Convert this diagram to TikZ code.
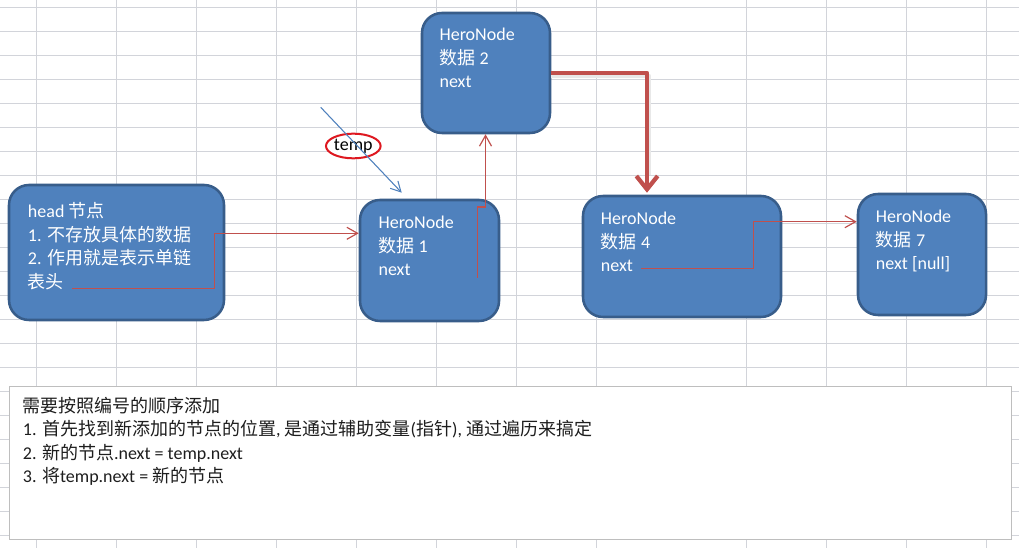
\documentclass[tikz,border=0pt]{standalone}
\usepackage{fontspec}
\setmainfont{Carlito}
\newfontfamily\cjk{Noto Sans CJK SC}
\usetikzlibrary{arrows.meta,shapes.geometric,calc}
\definecolor{gridc}{RGB}{210,212,218}
\definecolor{boxfill}{RGB}{79,129,189}
\definecolor{boxdraw}{RGB}{56,93,138}
\definecolor{redc}{RGB}{192,80,77}
\definecolor{tempred}{RGB}{222,24,32}
\definecolor{bluec}{RGB}{79,129,189}
\definecolor{txtc}{RGB}{30,30,30}
\definecolor{notegray}{RGB}{190,190,190}
\begin{document}
\begin{tikzpicture}[x=0.75pt,y=-0.75pt,
  hbox/.style={draw=boxdraw, line width=1.9pt, fill=boxfill, rounded corners=15pt, inner sep=0pt},
  wtxt/.style={text=white, anchor=base west, inner sep=0pt, font=\fontsize{13.5}{16}\selectfont},
  btxt/.style={text=txtc, anchor=base west, inner sep=0pt, font=\fontsize{13.5}{16}\selectfont},
  thinred/.style={draw=redc, line width=0.9pt, -{Straight Barb[length=8pt,width=9pt]}},
  thickred/.style={draw=redc, line width=3.2pt, line join=round, -{Straight Barb[length=10pt,width=16pt]}},
  bluearrow/.style={draw=bluec, line width=0.8pt, -{Straight Barb[length=7.5pt,width=8pt]}},
  gridline/.style={draw=gridc, line width=0.75pt}
]
\useasboundingbox (0,0) rectangle (1019,548);
\fill[white] (0,0) rectangle (1019,548);
% grid
\foreach \gx in {36,116,196,276,356,436,516,596,746,826,906,986}
  \draw[gridline] (\gx,0) -- (\gx,548);
\foreach \k in {0,...,22}
  \draw[gridline] (0,{7.3+24*\k}) -- (1019,{7.3+24*\k});

% note box
\node[draw=notegray, fill=white, line width=0.75pt, minimum width=1002*0.75pt, minimum height=153*0.75pt, inner sep=0pt] (note) at (510.5,463) {};
\node[btxt] (b1) at (22.7,412) {{\cjk 需要按照编号的顺序添加}};
\node[btxt] (b2) at (22.7,435.5) {1. {\cjk 首先找到新添加的节点的位置}, {\cjk 是通过辅助变量}({\cjk 指针}), {\cjk 通过遍历来搞定}};
\node[btxt] (b3) at (22.7,459) {2. {\cjk 新的节点}.next = temp.next};
\node[btxt] (b4) at (22.7,482.5) {3. {\cjk 将}temp.next = {\cjk 新的节点}};

% boxes
\node[hbox, minimum width=215*0.75pt, minimum height=135*0.75pt] (head) at (116.5,252.5) {};
\node[hbox, minimum width=139*0.75pt, minimum height=121*0.75pt] (n1) at (429.5,260.5) {};
\node[hbox, minimum width=128*0.75pt, minimum height=120*0.75pt] (n2) at (486,73) {};
\node[hbox, minimum width=198*0.75pt, minimum height=121*0.75pt] (n4) at (682,256.5) {};
\node[hbox, minimum width=128*0.75pt, minimum height=121*0.75pt] (n7) at (922,254.5) {};

% box texts
\node[wtxt] (ht1) at (27.7,218) {head {\cjk 节点}};
\node[wtxt] (ht2) at (27.7,241.5) {1. {\cjk 不存放具体的数据}};
\node[wtxt] (ht3) at (27.7,265) {2. {\cjk 作用就是表示单链}};
\node[wtxt] (ht4) at (27.7,288.5) {{\cjk 表头}};

\node[wtxt] (a1) at (378.3,229) {HeroNode};
\node[wtxt] (a2) at (378.3,252.5) {{\cjk 数据} 1};
\node[wtxt] (a3) at (378.3,276) {next};

\node[wtxt] (c1) at (439.3,40.8) {HeroNode};
\node[wtxt] (c2) at (439.3,64.3) {{\cjk 数据} 2};
\node[wtxt] (c3) at (439.3,87.8) {next};

\node[wtxt] (d1) at (600.7,225) {HeroNode};
\node[wtxt] (d2) at (600.7,248.5) {{\cjk 数据} 4};
\node[wtxt] (d3) at (600.7,272) {next};

\node[wtxt] (e1) at (875.7,223) {HeroNode};
\node[wtxt] (e2) at (875.7,246.5) {{\cjk 数据} 7};
\node[wtxt] (e3) at (875.7,270) {next [null]};

% temp label
\node[ellipse, draw=tempred, line width=1.5pt, fill=white, minimum width=39pt, minimum height=18.5pt, inner sep=0pt, text=black, font=\fontsize{13.5}{16}\selectfont] (temp) at (353.3,146) {temp};

% connectors
\coordinate (hs) at (72,288.3);
\coordinate (hk) at (214.5,233.3);
\draw[thinred] (hs) -| (hk) -- (hk -| n1.west);

\coordinate (n1s) at (477.5,278);
\coordinate (n1k) at (485.5,207);
\draw[thinred] (n1s) |- (n1k) -- (n1k |- n2.south);

\coordinate (n4s) at (641,268.3);
\coordinate (n4k) at (753.5,221.7);
\draw[thinred] (n4s) -| (n4k) -- (n4k -| n7.west);

\draw[black!9, line width=3.2pt, line join=round] ($(n2.east)+(0,3)$) -| ($(n4.north)+(-33,-20)$);
\draw[thickred] (n2.east) -| ($(n4.north)+(-35,-2)$);

\coordinate (ts) at (320.7,107.3);
\coordinate (te) at (401.7,192.7);
\draw[bluearrow] (ts) -- (te);
\end{tikzpicture}
\end{document}
